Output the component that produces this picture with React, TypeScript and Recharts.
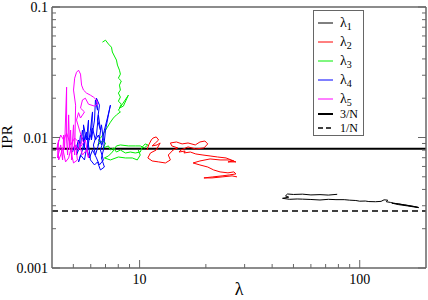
import React from 'react'
import { ScatterChart, Scatter, XAxis, YAxis, ReferenceLine, Legend, Label } from 'recharts'

type Pt = [number, number]

// trajetórias (λ, IPR)
const lambda1: Pt[] = [
    [79, 0.00367], [72, 0.00362], [66, 0.00365], [60, 0.00363], [55, 0.00368], [50, 0.00366], [47, 0.00369],
    [46, 0.00357], [47.6, 0.00349], [44.6, 0.00342], [48, 0.00336], [52, 0.00338], [55, 0.00337], [60, 0.00335],
    [66, 0.00332], [72, 0.00336], [78, 0.00334], [85, 0.00334], [90, 0.00331], [96, 0.00329], [100, 0.00325],
    [106, 0.00326], [110, 0.00323], [118, 0.00322], [125, 0.00324], [129, 0.00333], [134, 0.00331], [132, 0.00322],
    [138, 0.00318], [142, 0.00314], [150, 0.0031], [156, 0.00306], [163, 0.00302], [171, 0.00298], [178, 0.00295],
    [185, 0.00291], [175, 0.00297], [160, 0.00305], [145, 0.00312], [140, 0.00314], [150, 0.00306], [165, 0.00299],
    [185, 0.0029],
]

const lambda2: Pt[] = [
    [10.8, 0.00802], [11.0, 0.00877], [11.3, 0.00957], [11.5, 0.0099], [11.9, 0.0101], [12.2, 0.00957],
    [11.8, 0.00908], [11.4, 0.00862], [12.0, 0.00877], [12.4, 0.00908], [11.9, 0.00802], [11.2, 0.00761],
    [10.9, 0.00697], [11.4, 0.00661], [12.2, 0.0065], [13.1, 0.00638], [13.8, 0.00673], [13.5, 0.00734],
    [14.2, 0.00802], [14.9, 0.00832], [14.0, 0.00862], [13.8, 0.00908], [14.7, 0.00924], [15.6, 0.00893],
    [16.6, 0.00908], [17.9, 0.00877], [18.8, 0.00924], [19.8, 0.0094], [20.4, 0.00893], [19.6, 0.00832],
    [18.0, 0.00817], [16.6, 0.00847], [15.4, 0.00802], [15.1, 0.00774], [16.1, 0.00788], [15.9, 0.00761],
    [17.0, 0.00774], [18.0, 0.00748], [19.4, 0.00734], [20.9, 0.00722], [22.6, 0.00709], [24.7, 0.00697],
    [26.8, 0.00661], [25.2, 0.0065], [27.4, 0.0065], [25.7, 0.00673], [23.2, 0.00673], [20.9, 0.00685],
    [18.8, 0.00661], [17.5, 0.00638], [18.8, 0.00616], [20.4, 0.00594], [21.7, 0.00564], [23.2, 0.00545],
    [25.2, 0.00536], [26.8, 0.00545], [27.4, 0.00526], [25.7, 0.00517], [23.7, 0.00508], [21.5, 0.00499],
    [19.6, 0.0049], [21.3, 0.0049], [23.7, 0.00499], [26.3, 0.00508], [27.7, 0.00499],
]

const lambda3: Pt[] = [
    [6.78, 0.0538], [7.0, 0.0557], [7.22, 0.052], [7.45, 0.0492], [7.52, 0.0452], [7.68, 0.0421], [7.85, 0.0392],
    [7.93, 0.0359], [8.1, 0.0328], [8.18, 0.0306], [8.01, 0.0285], [8.26, 0.0271], [8.1, 0.0252], [8.18, 0.0231],
    [8.01, 0.0219], [8.18, 0.0204], [8.01, 0.019], [8.26, 0.018], [8.1, 0.0168], [8.44, 0.0174], [8.89, 0.0211],
    [8.35, 0.018], [8.01, 0.0162], [8.18, 0.0157], [7.85, 0.0149], [7.6, 0.0141], [7.37, 0.0131], [7.14, 0.012],
    [6.92, 0.011], [6.71, 0.0101], [6.5, 0.00957], [6.64, 0.00908], [6.44, 0.00877], [6.78, 0.0094],
    [7.0, 0.00908], [6.85, 0.00832], [7.22, 0.00862], [7.37, 0.00802], [7.6, 0.00832], [7.85, 0.00774],
    [8.18, 0.00802], [8.62, 0.00761], [9.08, 0.00774], [9.56, 0.00761], [10.07, 0.00774], [10.3, 0.00847],
    [10.6, 0.00893], [10.9, 0.00877], [10.5, 0.00832], [10.07, 0.00862], [9.56, 0.00862], [8.89, 0.00862],
    [8.18, 0.00877], [7.85, 0.00862], [7.52, 0.00774], [7.22, 0.00722], [6.92, 0.00697], [7.37, 0.00673],
    [8.01, 0.00709], [8.62, 0.00697], [9.27, 0.00697], [9.76, 0.00673], [10.07, 0.00734], [9.86, 0.00802],
]

const lambda4: Pt[] = [
    [5.12, 0.00802], [5.28, 0.00957], [5.17, 0.00734], [5.39, 0.00877], [5.5, 0.0114], [5.62, 0.00802],
    [5.56, 0.0125], [5.74, 0.00957], [5.86, 0.0136], [5.8, 0.00802], [5.98, 0.0114], [6.11, 0.0157],
    [6.04, 0.00957], [6.24, 0.0136], [6.3, 0.0194], [6.44, 0.0162], [6.37, 0.02], [6.57, 0.0177],
    [6.44, 0.0136], [6.64, 0.0114], [6.5, 0.0149], [6.37, 0.01045], [6.17, 0.00877], [6.3, 0.00734],
    [6.5, 0.00877], [6.71, 0.0125], [6.85, 0.00957], [6.64, 0.00802], [6.85, 0.00673], [6.57, 0.00616],
    [6.37, 0.00697], [6.11, 0.00802], [5.92, 0.00697], [5.74, 0.00832], [5.62, 0.00673], [5.39, 0.00734],
    [5.28, 0.0065], [5.5, 0.00802], [5.67, 0.01045], [5.92, 0.00957], [6.11, 0.0118], [6.3, 0.00957],
    [6.5, 0.01045], [6.71, 0.00877], [6.92, 0.0114], [7.14, 0.0141], [7.37, 0.0177], [7.22, 0.0149],
    [7.0, 0.0114], [6.85, 0.00802], [6.71, 0.00697], [6.92, 0.00594], [6.64, 0.00564], [6.44, 0.0065],
    [6.24, 0.00616], [5.98, 0.00673], [5.86, 0.00877], [5.74, 0.011], [5.62, 0.00924], [5.39, 0.01045],
    [5.28, 0.00802], [5.07, 0.00877], [4.96, 0.00774],
]

const lambda5: Pt[] = [
    [4.2, 0.00802], [4.29, 0.00957], [4.24, 0.00697], [4.38, 0.00877], [4.47, 0.00673], [4.52, 0.01045],
    [4.56, 0.00802], [4.66, 0.0243], [4.66, 0.00957], [4.71, 0.00734], [4.76, 0.0149], [4.81, 0.00802],
    [4.86, 0.0114], [4.91, 0.00673], [4.96, 0.00957], [5.01, 0.0125], [5.07, 0.00734], [5.12, 0.0177],
    [5.01, 0.0231], [5.07, 0.0285], [5.17, 0.0316], [5.28, 0.0328], [5.39, 0.0306], [5.45, 0.0252],
    [5.56, 0.0231], [5.74, 0.0219], [5.98, 0.0211], [6.17, 0.0204], [6.37, 0.0194], [6.44, 0.018],
    [6.24, 0.0174], [5.86, 0.018], [5.67, 0.02], [5.5, 0.0194], [5.39, 0.0168], [5.62, 0.0157],
    [5.39, 0.0141], [5.28, 0.0155], [5.17, 0.0136], [5.33, 0.0114], [5.5, 0.00957], [5.28, 0.00802],
    [5.12, 0.00877], [5.22, 0.00673], [5.01, 0.00638], [4.86, 0.00802], [4.76, 0.00697], [4.61, 0.0065],
    [4.47, 0.00832], [4.38, 0.00734], [4.29, 0.00673], [4.24, 0.00877], [4.38, 0.01045], [4.52, 0.00957],
    [4.66, 0.0108], [4.86, 0.00877], [5.07, 0.0099], [5.28, 0.00924], [5.5, 0.00734], [5.74, 0.00802],
    [5.86, 0.00697], [5.67, 0.00957], [5.39, 0.00847],
]

const seriesData = [lambda1, lambda2, lambda3, lambda4, lambda5]
const seriesSubs = ['1', '2', '3', '4', '5']
const seriesColors = ['#000000', '#ff0000', '#00ee00', '#0000ff', '#ff00ff']

const threeOverN = 0.0082
const oneOverN = 0.00273

const xTicks = [5, 6, 7, 8, 9, 10, 20, 30, 40, 50, 60, 70, 80, 90, 100]
const xMajor = [10, 100]
const yTicks = [0.001, 0.002, 0.003, 0.004, 0.005, 0.006, 0.007, 0.008, 0.009,
    0.01, 0.02, 0.03, 0.04, 0.05, 0.06, 0.07, 0.08, 0.09, 0.1]
const yMajor = [0.001, 0.01, 0.1]

const serif = "'Liberation Serif', 'DejaVu Serif', serif"
const axisColor = '#666'

const isMajor = (list: number[], v: number) => list.some(m => Math.abs(m - v) < 1e-9)

const BottomTick = ({ x, y, payload }: any) => {
    const major = isMajor(xMajor, payload.value)
    return (
        <g>
            <line x1={x} y1={y} x2={x} y2={y - (major ? 8 : 4)} stroke={axisColor} />
            {major && (
                <text x={x} y={y + 16} textAnchor="middle" fontSize={14} fontFamily={serif} fill="#000">
                    {payload.value}
                </text>
            )}
        </g>
    )
}

const TopTick = ({ x, y, payload }: any) => {
    const major = isMajor(xMajor, payload.value)
    return <line x1={x} y1={y} x2={x} y2={y + (major ? 8 : 4)} stroke={axisColor} />
}

const LeftTick = ({ x, y, payload }: any) => {
    const major = isMajor(yMajor, payload.value)
    return (
        <g>
            <line x1={x} y1={y} x2={x + (major ? 8 : 4)} y2={y} stroke={axisColor} />
            {major && (
                <text x={x - 4} y={y + 5} textAnchor="end" fontSize={14} fontFamily={serif} fill="#000">
                    {String(payload.value)}
                </text>
            )}
        </g>
    )
}

const RightTick = ({ x, y, payload }: any) => {
    const major = isMajor(yMajor, payload.value)
    return <line x1={x} y1={y} x2={x - (major ? 8 : 4)} y2={y} stroke={axisColor} />
}

const legendRows = [12, 31, 50, 69, 88]

const LegendBox = () => (
    <div style={{ width: 51, height: 126, border: `1px solid ${axisColor}`, background: '#fff', boxSizing: 'border-box' }}>
        <svg width={49} height={124} style={{ display: 'block' }}>
            {seriesSubs.map((s, i) => (
                <g key={s}>
                    <line x1={4} x2={19} y1={legendRows[i]} y2={legendRows[i]} stroke={seriesColors[i]} strokeWidth={1} />
                    <text x={26} y={legendRows[i] + 4} fontSize={14} fontFamily={serif} fill="#000">
                        λ<tspan dy={3} fontSize={10}>{s}</tspan>
                    </text>
                </g>
            ))}
            <line x1={4} x2={19} y1={103} y2={103} stroke="#000" strokeWidth={2} />
            <text x={26} y={107} fontSize={12} fontFamily={serif} fill="#000">3/N</text>
            <line x1={4} x2={19} y1={117} y2={117} stroke="#000" strokeWidth={1.5} strokeDasharray="5 3" />
            <text x={26} y={121} fontSize={12} fontFamily={serif} fill="#000">1/N</text>
        </svg>
    </div>
)

export default function App() {
    return (
        <div style={{ position: 'absolute', left: 0, top: 0 }}>
            <ScatterChart width={428} height={300} margin={{ top: 0, right: 0, bottom: 0, left: 0 }}>
                <XAxis
                    dataKey="x" type="number" scale="log" domain={[4, 200]} allowDataOverflow
                    ticks={xTicks} interval={0} height={32} tickSize={0} tickMargin={0}
                    tickLine={false} axisLine={{ stroke: axisColor, strokeWidth: 1.5 }} tick={BottomTick}
                >
                    <Label content={() => (
                        <text x={239} y={295} textAnchor="middle" fontSize={18} fontFamily={serif} fill="#000">λ</text>
                    )} />
                </XAxis>
                <XAxis
                    xAxisId="top" orientation="top" type="number" scale="log" domain={[4, 200]} allowDataOverflow
                    ticks={xTicks} interval={0} height={7} tickSize={0} tickMargin={0}
                    tickLine={false} axisLine={{ stroke: axisColor, strokeWidth: 1.5 }} tick={TopTick}
                />
                <YAxis
                    dataKey="y" type="number" scale="log" domain={[0.001, 0.1]} allowDataOverflow
                    ticks={yTicks} interval={0} width={52} tickSize={0} tickMargin={0}
                    tickLine={false} axisLine={{ stroke: axisColor, strokeWidth: 1.5 }} tick={LeftTick}
                >
                    <Label content={() => (
                        <text x={12} y={137} transform="rotate(-90 12 137)" textAnchor="middle" fontSize={15} fontFamily={serif} fill="#000">IPR</text>
                    )} />
                </YAxis>
                <YAxis
                    yAxisId="right" orientation="right" type="number" scale="log" domain={[0.001, 0.1]} allowDataOverflow
                    ticks={yTicks} interval={0} width={2} tickSize={0} tickMargin={0}
                    tickLine={false} axisLine={{ stroke: axisColor, strokeWidth: 1.5 }} tick={RightTick}
                />
                {seriesData.map((d, i) => (
                    <Scatter
                        key={i}
                        data={d.map(([x, y]) => ({ x, y }))}
                        fill={seriesColors[i]}
                        line={{ stroke: seriesColors[i], strokeWidth: 1 }}
                        shape={() => <g />}
                        isAnimationActive={false}
                    />
                ))}
                <ReferenceLine y={threeOverN} stroke="#000" strokeWidth={2} />
                <ReferenceLine y={oneOverN} stroke="#000" strokeWidth={1.5} strokeDasharray="6 4" />
                <Legend
                    layout="vertical" align="center" verticalAlign="middle"
                    wrapperStyle={{ left: 313, top: 10, width: 51, height: 126 }}
                    content={() => <LegendBox />}
                />
            </ScatterChart>
        </div>
    )
}
